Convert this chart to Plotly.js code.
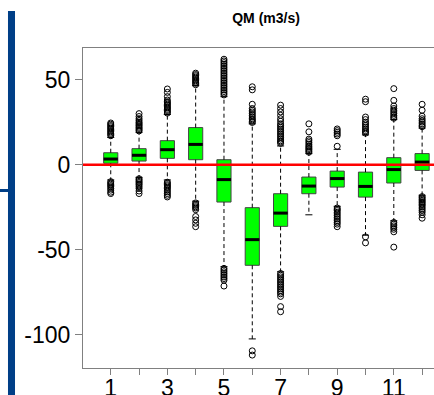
<!DOCTYPE html>
<html>
<head>
<meta charset="utf-8">
<script src="https://cdn.plot.ly/plotly-3.0.1.min.js"></script>
<style>html,body{margin:0;padding:0;background:#fff;overflow:hidden;}#chart{width:434px;height:395px;}</style>
</head>
<body>
<div id="chart"></div>
<script>
// Months / categories
const categories = [1, 2, 3, 4, 5, 6, 7, 8, 9, 10, 11, 12];
const tickLabels = ['1', '', '3', '', '5', '', '7', '', '9', '', '11', ''];
const yTickValues = [-100, -50, 0, 50];
const yTickLabels = ['-100', '-50', '0', '50'];
// Box statistics (QM, m3/s)
const q1 = [0.8, 2.1, 3.7, 2.9, -22, -59.2, -36.3, -17.1, -13.2, -19.1, -10.8, -3.4];
const medians = [3.3, 5.5, 8.8, 11.9, -8.8, -44.1, -28.5, -12.6, -8.2, -12.8, -2.9, 1.5];
const q3 = [7.0, 9.4, 14.1, 21.8, 2.9, -25.3, -17.1, -7.3, -3.8, -4.4, 4.1, 6.5];
const whiskerLow = [-9, -7.5, -9, -21.5, -60, -102.5, -63, -29.5, -24.5, -41.5, -33, -18];
const whiskerHigh = [16, 19, 29.5, 46.5, 40, 24, 11, 6.5, 9, 17.5, 26.5, 21.5];
// Outliers per category
const outliersHigh = [
  [17, 17.8, 18.5, 19.3, 20, 20.8, 21.5, 22.3, 23, 23.8, 24.5],
  [19.8, 20.5, 21.3, 22, 22.8, 23.5, 24.3, 25, 26, 27, 28.3, 30],
  [30.3, 31, 31.8, 32.5, 33.3, 34, 34.8, 35.5, 36.3, 37, 38, 40, 42.5, 44.5],
  [47, 47.8, 48.5, 49.3, 50, 50.8, 51.5, 52.3, 53, 53.8],
  [41, 42, 43, 44, 45, 46, 47, 48, 49, 50, 51, 52, 53, 54, 55, 56, 57, 58, 59, 60, 61, 62],
  [24.8, 25.5, 26.3, 27, 28, 29, 30, 31, 32, 33, 35.5, 44, 45.8],
  [12.5, 13.3, 14, 15, 16, 17, 18, 19, 20, 21, 22, 23, 24, 25.5, 27, 29, 31, 33, 35],
  [7.3, 8, 8.8, 9.5, 10.3, 11, 12, 13, 14, 15, 19.3, 24],
  [10.8, 17, 18, 19, 20, 21],
  [18.5, 19.3, 20, 21, 22, 23, 24, 25, 26.5, 28, 37, 38.5],
  [27.3, 28, 29, 30, 31, 32, 33, 34.5, 37.8, 44.7],
  [22.3, 23, 24, 25, 26, 27, 28.5, 32, 35.5]
];
const outliersLow = [
  [-10, -10.8, -11.5, -12.3, -13, -14, -15, -16.2, -17],
  [-8.3, -9, -9.8, -10.5, -11.3, -12, -13, -14, -15.5, -17],
  [-10.3, -11, -11.8, -12.5, -13.3, -14, -15, -16, -17, -18, -19],
  [-22.5, -23.3, -24, -24.8, -25.5, -26.5, -30.5, -32.5, -34.5, -36.5],
  [-61, -62, -63, -64, -65, -66, -67, -68, -71.4],
  [-109.5, -112],
  [-64, -65, -66, -67, -68, -69, -70, -71, -72, -73, -74, -75, -76, -77.5, -83.5, -86.5],
  [],
  [-25.5, -26.3, -27, -28, -29, -30, -31, -32, -33, -34, -35, -36.5],
  [-42.5, -46],
  [-34, -35, -36, -37, -38, -39.5, -48.5],
  [-18.8, -19.5, -20.3, -21, -21.8, -22.5, -23.3, -24, -25, -26, -27, -28, -29.5, -31.5]
];

const boxWidth = 0.5;
const stapleHalf = boxWidth / 4;
const medianHalf = boxWidth / 2;

// Whiskers (dashed)
const wx = [], wy = [];
categories.forEach((c, i) => {
  wx.push(c, c, null, c, c, null);
  wy.push(q3[i], whiskerHigh[i], null, q1[i], whiskerLow[i], null);
});
// Staples
const sx = [], sy = [];
categories.forEach((c, i) => {
  sx.push(c - stapleHalf, c + stapleHalf, null, c - stapleHalf, c + stapleHalf, null);
  sy.push(whiskerHigh[i], whiskerHigh[i], null, whiskerLow[i], whiskerLow[i], null);
});
// Medians (thick)
const mx = [], my = [];
categories.forEach((c, i) => {
  mx.push(c - medianHalf, c + medianHalf, null);
  my.push(medians[i], medians[i], null);
});
// Outliers
const ox = [], oy = [];
categories.forEach((c, i) => {
  outliersHigh[i].concat(outliersLow[i]).forEach(v => { ox.push(c); oy.push(v); });
});

const traces = [
  {type: 'scatter', mode: 'lines', x: wx, y: wy, line: {color: '#000', width: 1, dash: '4px,3px'}, hoverinfo: 'skip', showlegend: false},
  {type: 'scatter', mode: 'lines', x: sx, y: sy, line: {color: '#000', width: 1}, hoverinfo: 'skip', showlegend: false},
  {type: 'box', x: categories, q1: q1, median: medians, q3: q3, lowerfence: q1, upperfence: q3,
   width: boxWidth, whiskerwidth: 0, fillcolor: '#00FF00', line: {color: '#444444', width: 1},
   boxpoints: false, hoverinfo: 'skip', showlegend: false},
  {type: 'scatter', mode: 'lines', x: mx, y: my, line: {color: '#000', width: 3}, hoverinfo: 'skip', showlegend: false},
  {type: 'scatter', mode: 'markers', x: ox, y: oy,
   marker: {symbol: 'circle-open', size: 6, color: '#000', line: {width: 1, color: '#000'}},
   hoverinfo: 'skip', showlegend: false}
];

const font = 'Liberation Sans, Arial, sans-serif';
const layout = {
  width: 434, height: 395,
  margin: {l: 83, r: 0, t: 48, b: 27},
  paper_bgcolor: '#fff', plot_bgcolor: '#fff',
  font: {family: font, color: '#000'},
  title: {text: '<b>QM (m3/s)</b>', font: {family: font, size: 14, color: '#000'},
          xref: 'container', x: 0.613, xanchor: 'center', yref: 'container', y: 0.954, yanchor: 'middle'},
  xaxis: {range: [0.02, 12.42], tickmode: 'array', tickvals: categories, ticktext: tickLabels,
          ticks: 'outside', ticklen: 6, tickcolor: '#808080', tickwidth: 1, ticklabelstandoff: -7,
          showline: true, mirror: true, linecolor: '#808080', linewidth: 1,
          showgrid: false, zeroline: false, tickfont: {family: font, size: 23, color: '#000'}, fixedrange: true},
  yaxis: {range: [-119.6, 68.6], tickmode: 'array', tickvals: yTickValues, ticktext: yTickLabels,
          ticks: 'outside', ticklen: 7, tickcolor: '#808080', tickwidth: 1,
          showline: true, linecolor: '#808080', linewidth: 1,
          showgrid: false, zeroline: false, tickfont: {family: font, size: 23, color: '#000'}, fixedrange: true},
  shapes: [
    {type: 'line', xref: 'paper', x0: 0, x1: 1, yref: 'y', y0: 0, y1: 0, line: {color: '#FF0000', width: 2.5}, layer: 'above'},
    {type: 'rect', xref: 'paper', x0: -0.2137, x1: -0.1937, yref: 'paper', y0: -0.1, y1: 1.1156, fillcolor: '#003F87', line: {width: 0}},
    {type: 'rect', xref: 'paper', x0: -0.2365, x1: -0.2137, yref: 'paper', y0: 0.55, y1: 0.5594, fillcolor: '#003F87', line: {width: 0}}
  ],
  showlegend: false
};

Plotly.newPlot('chart', traces, layout, {staticPlot: true, displayModeBar: false});
</script>
</body>
</html>
